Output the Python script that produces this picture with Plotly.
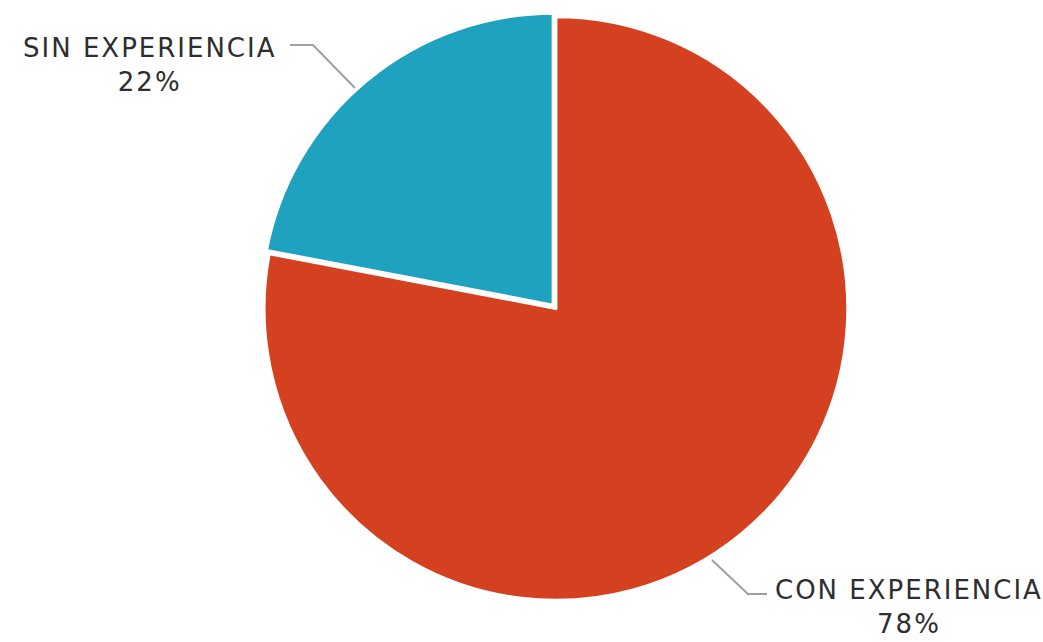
import plotly.graph_objects as go

# datos
categorias = ['CON EXPERIENCIA', 'SIN EXPERIENCIA']
porcentajes = [78, 22]
colores = ['#D44121', '#1EA2BF']

W, H = 1043, 642


def px(x, y):
    # pixel -> paper
    return x / W, 1 - y / H


fig = go.Figure()
fig.add_trace(go.Pie(
    labels=categorias,
    values=porcentajes,
    sort=False,
    direction='clockwise',
    rotation=0,
    pull=[0, 0.015],
    textinfo='none',
    hoverinfo='label+percent',
    marker=dict(colors=colores, line=dict(color='white', width=3)),
    domain=dict(x=[0.249, 0.817], y=[0.0578, 0.9812]),
    showlegend=False,
))

# etiquetas con lineas guia
etiquetas = [
    dict(txt=f'{categorias[1]}<br>{porcentajes[1]}%', pos=(150, 65),
         linea=[(290, 45), (313, 45), (355, 88)]),
    dict(txt=f'{categorias[0]}<br>{porcentajes[0]}%', pos=(909, 607),
         linea=[(712, 560), (748, 594), (767, 594)]),
]

shapes = []
annotations = []
for e in etiquetas:
    pts = [px(*p) for p in e['linea']]
    path = 'M ' + ' L '.join(f'{a},{b}' for a, b in pts)
    shapes.append(dict(type='path', path=path, xref='paper', yref='paper',
                       line=dict(color='#a0a0a0', width=2)))
    x, y = px(*e['pos'])
    annotations.append(dict(text=e['txt'], x=x, y=y, xref='paper', yref='paper',
                            showarrow=False, xanchor='center', yanchor='middle',
                            align='center',
                            font=dict(family='DejaVu Sans', size=26, color='#2e2e2e')))

fig.update_layout(
    width=W, height=H,
    margin=dict(l=0, r=0, t=0, b=0),
    paper_bgcolor='white',
    plot_bgcolor='white',
    shapes=shapes,
    annotations=annotations,
)

# sin margen de pagina y espaciado entre letras como en el original
js = """
document.body.style.margin = '0';
document.body.style.overflow = 'hidden';
document.querySelectorAll('.annotation-text').forEach(function(t){
  t.style.letterSpacing = '2px';
});
"""
fig.write_html('out.html', post_script=js, config={'displayModeBar': False})
